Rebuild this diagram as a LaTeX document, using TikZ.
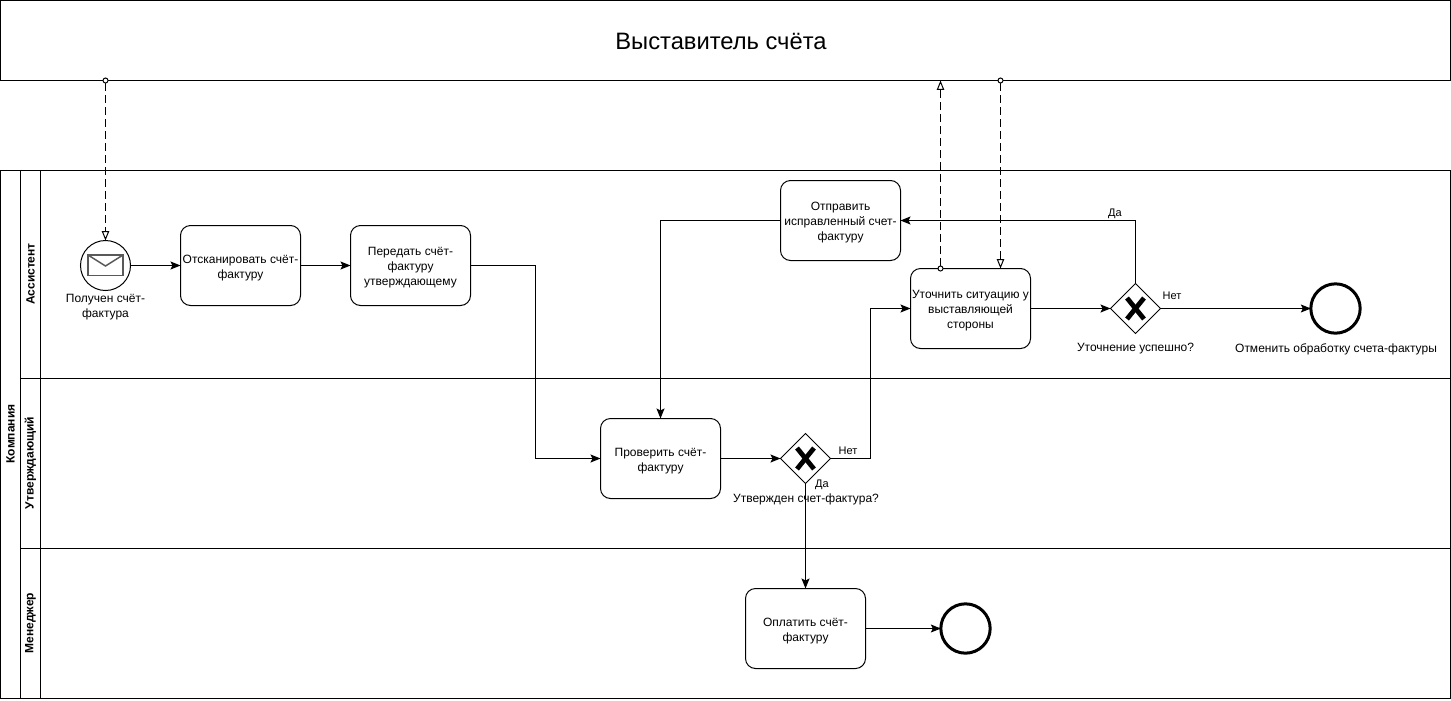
\documentclass[tikz,border=0pt]{standalone}
\usepackage{fontspec}
\setmainfont{Liberation Sans}
\usetikzlibrary{arrows.meta,shapes.geometric}
\newcommand{\dn}{\rule{0pt}{10pt}}
\tikzset{
  lw/.style={line width=0.75pt},
  taskbox/.style={draw,lw,rectangle,rounded corners=7.5pt,minimum width=90pt,minimum height=60pt,inner sep=0pt,outer sep=0pt,align=center,font=\fontsize{9}{11.25}\selectfont},
  gatebox/.style={draw,lw,diamond,aspect=1,minimum width=37.5pt,minimum height=37.5pt,inner sep=0pt,outer sep=0pt},
  startev/.style={draw,lw,circle,minimum size=37.5pt,inner sep=0pt,outer sep=0pt},
  endev/.style={draw,line width=2.25pt,circle,minimum size=37pt,inner sep=0pt,outer sep=0pt},
  lbl/.style={align=center,inner sep=0pt,font=\fontsize{9}{11.25}\selectfont},
  small/.style={align=center,inner sep=0pt,font=\fontsize{8.25}{10}\selectfont},
  lanehead/.style={rotate=90,inner sep=0pt,font=\fontsize{9}{11}\selectfont\bfseries},
  flow/.style={lw,-{Stealth[length=7.5pt,width=6pt,inset=1.5pt]}},
  msg/.style={lw,dash pattern=on 6pt off 3pt,{Circle[open,length=4.5pt,width=4.5pt,fill=white]}-{Triangle[open,length=7pt,width=5.5pt,fill=white]}},
  xmark/.style={line width=3.6pt},
  envline/.style={line width=1.1pt,draw=black!65}
}
\begin{document}
\begin{tikzpicture}[x=0.75pt,y=-0.75pt]
\useasboundingbox (0,0) rectangle (1451,700);
\fill[white] (0,0) rectangle (1451,700);
% pool
\node[draw,lw,rectangle,minimum width=1087.5pt,minimum height=59.6pt,inner sep=0pt,outer sep=0pt] (pool) at (725.5,40.5) {};
\node[inner sep=0pt,font=\fontsize{17.8}{22}\selectfont] (pooltext) at (721,41.5) {Выставитель счёта};
% swimlanes
\draw[lw] (0.5,170.5) rectangle (1450.5,698.5);
\draw[lw] (20.5,170.5) -- (20.5,698.5);
\draw[lw] (40.5,170.5) -- (40.5,698.5);
\draw[lw] (20.5,378.5) -- (1450.5,378.5);
\draw[lw] (20.5,548.5) -- (1450.5,548.5);
\node[lanehead] (lc) at (10.5,434) {Компания};
\node[lanehead] (la) at (30.5,274) {Ассистент};
\node[lanehead] (lu) at (30.5,463) {Утверждающий};
\node[lanehead] (lm) at (30.5,623) {Менеджер};
% events
\node[startev] (st) at (105.5,265.5) {};
\draw[envline] (88,255) rectangle (123,275.5);
\draw[envline] (88,255) -- (105.5,266) -- (123,255);
\node[endev] (en1) at (1335.5,308.5) {};
\node[endev] (en2) at (965.5,628.5) {};
% tasks
\node[taskbox] (ta) at (240.5,265.5) {\dn Отсканировать счёт-\\фактуру};
\node[taskbox] (tb) at (410.5,265.5) {\dn Передать счёт-\\фактуру\\утверждающему};
\node[taskbox] (tc) at (840.5,220.5) {\dn Отправить\\исправленный счет-\\фактуру};
\node[taskbox] (td) at (970.5,308.5) {\dn Уточнить ситуацию у\\выставляющей\\стороны};
\node[taskbox] (te) at (660.5,458.5) {\dn Проверить счёт-\\фактуру};
\node[taskbox] (tf) at (805.5,628.5) {\dn Оплатить счёт-\\фактуру};
% gateways
\node[gatebox] (g1) at (805.5,458.5) {};
\node[gatebox] (g2) at (1135.5,308.5) {};
\foreach \g in {g1,g2}{
  \draw[xmark] ([shift={(-8.5,-10.5)}]\g.center) -- ([shift={(8.5,10.5)}]\g.center);
  \draw[xmark] ([shift={(8.5,-10.5)}]\g.center) -- ([shift={(-8.5,10.5)}]\g.center);
}
% sequence flows
\draw[flow] (st) -- (ta);
\draw[flow] (ta) -- (tb);
\draw[flow] (tb.east) -- (535.5,265.5) -- (535.5,458.5) -- (te.west);
\draw[flow] (te) -- (g1);
\draw[flow] (g1.east) -- (870.5,458.5) -- (870.5,308.5) -- (td.west);
\draw[flow] (g1.south) -- (tf.north);
\draw[flow] (td.east) -- (g2.west);
\draw[flow] (g2.north) -- (1135.5,220.5) -- (tc.east);
\draw[flow] (g2.east) -- (en1.west);
\draw[flow] (tc.west) -- (660.5,220.5) -- (te.north);
\draw[flow] (tf.east) -- (en2.west);
% message flows
\coordinate (m1) at (105.5,77.5);
\coordinate (m2) at (940.5,80.5);
\coordinate (m3) at (1000.5,77.5);
\coordinate (m2b) at (940.5,271.5);
\coordinate (m3b) at (1000.5,268.5);
\draw[msg] (m1) -- (st.north);
\draw[msg] (m2b) -- (m2);
\draw[msg] (m3) -- (m3b);
% labels
\node[lbl] (l1) at (105.5,307.5) {Получен счёт-\\фактура};
\node[lbl] (l2) at (1135.5,349) {Уточнение успешно?};
\node[lbl] (l3) at (1336,349) {Отменить обработку счета-фактуры};
\node[lbl] (l4) at (806,499) {Утвержден счет-фактура?};
\node[small] (n1) at (822,485) {Да};
\node[small] (n2) at (848,451) {Нет};
\node[small] (n3) at (1115,213.5) {Да};
\node[small] (n4) at (1172,296) {Нет};
\end{tikzpicture}
\end{document}
